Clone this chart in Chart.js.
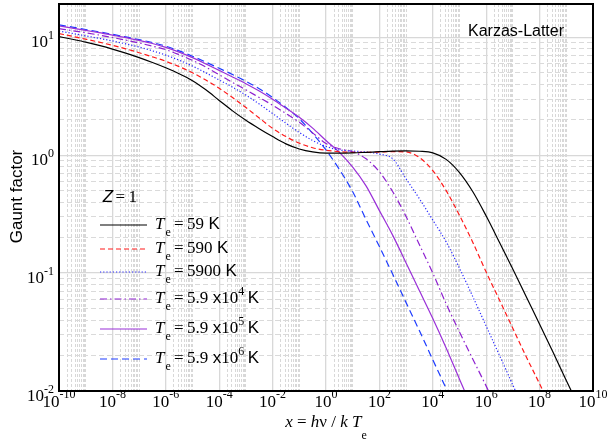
<!DOCTYPE html>
<html><head><meta charset="utf-8">
<script src="https://cdn.jsdelivr.net/npm/chart.js@4/dist/chart.umd.min.js"></script>
<style>html,body{margin:0;padding:0;background:#fff;}#wrap{width:609px;height:445px;}</style>
</head><body><div id="wrap"><canvas id="c" width="609" height="445"></canvas></div>
<script>
// x = h nu / k Te sample positions (half-decade steps)
const xValues = [1e-10, 3.162e-10, 1e-9, 3.162e-9, 1e-8, 3.162e-8, 1e-7, 3.162e-7, 1e-6, 3.162e-6, 1e-5, 3.162e-5, 1e-4, 3.162e-4, 1e-3, 3.162e-3, 1e-2, 3.162e-2, 0.1, 0.3162, 1, 3.162, 10, 31.62, 100, 316.2, 1e3, 3162, 1e4, 3.162e4, 1e5, 3.162e5, 1e6, 3.162e6, 1e7, 3.162e7, 1e8, 3.162e8, 1e9, 3.162e9, 1e10];
// Gaunt factor per temperature
const g59   = [10.16, 9.64, 9.12, 8.55, 7.96, 7.35, 6.73, 6.12, 5.52, 4.92, 4.29, 3.59, 2.92, 2.38, 1.98, 1.68, 1.44, 1.25, 1.13, 1.067, 1.042, 1.042, 1.047, 1.059, 1.072, 1.084, 1.089, 1.081, 1.047, 0.923, 0.713, 0.490, 0.305, 0.182, 0.108, 0.063, 0.0369, 0.0214, 0.0123, 0.0071, null];
const g590  = [10.77, 10.21, 9.66, 9.12, 8.57, 8.0, 7.41, 6.84, 6.27, 5.65, 5.01, 4.35, 3.70, 3.09, 2.54, 2.07, 1.69, 1.44, 1.267, 1.159, 1.102, 1.074, 1.059, 1.057, 1.064, 1.074, 1.067, 0.955, 0.741, 0.501, 0.309, 0.182, 0.102, 0.0589, 0.0339, 0.0195, 0.0115, 0.0066, null, null, null];
const g5900 = [11.32, 10.81, 10.30, 9.82, 9.33, 8.81, 8.28, 7.69, 7.08, 6.40, 5.71, 5.01, 4.35, 3.78, 3.24, 2.72, 2.26, 1.87, 1.56, 1.334, 1.189, 1.109, 1.084, 1.067, 1.023, 0.933, 0.631, 0.427, 0.282, 0.184, 0.110, 0.063, 0.0355, 0.020, 0.0112, 0.0063, null, null, null, null, null];
const g59e3 = [11.86, 11.40, 10.94, 10.47, 9.98, 9.48, 8.97, 8.43, 7.87, 7.13, 6.38, 5.60, 4.82, 4.14, 3.59, 3.09, 2.66, 2.26, 1.905, 1.549, 1.259, 1.135, 1.072, 0.933, 0.724, 0.490, 0.302, 0.174, 0.100, 0.055, 0.0316, 0.0186, 0.011, 0.0063, null, null, null, null, null, null, null];
const g59e4 = [12.50, 12.0, 11.48, 10.96, 10.47, 9.95, 9.44, 8.87, 8.22, 7.50, 6.73, 5.96, 5.25, 4.62, 4.05, 3.51, 2.99, 2.51, 2.10, 1.70, 1.334, 1.059, 0.794, 0.550, 0.339, 0.209, 0.122, 0.0708, 0.0412, 0.0232, 0.0126, 0.0069, null, null, null, null, null, null, null, null, null];
const g59e5 = [12.76, 12.22, 11.67, 11.14, 10.62, 10.09, 9.57, 9.04, 8.43, 7.69, 6.92, 6.17, 5.47, 4.84, 4.24, 3.67, 3.09, 2.54, 2.04, 1.531, 1.109, 0.759, 0.490, 0.285, 0.168, 0.0977, 0.0562, 0.0324, 0.0184, 0.0105, 0.0060, null, null, null, null, null, null, null, null, null, null];
// legend texts
const legendMantissa = ['59', '590', '5900', '5.9', '5.9', '5.9'];
const legendExponent = [null, null, null, '4', '5', '6'];
// tick labels (powers of ten)
const xLabelExps = [-10, -8, -6, -4, -2, 0, 2, 4, 6, 8, 10];
const yLabelExps = [-2, -1, 0, 1];
const minorMultipliers = [2, 3, 4, 5, 6, 7, 8, 9];

const seriesList = [g59, g590, g5900, g59e3, g59e4, g59e5];
const styles = [
  {c:'#000000', d:[]},
  {c:'#ff1a1a', d:[5,3]},
  {c:'#2a2aff', d:[1.2,2]},
  {c:'#8e20d0', d:[7,3,1.5,3]},
  {c:'#9a30d8', d:[]},
  {c:'#1e3cff', d:[7,4]}
];
const datasets = seriesList.map((arr, i) => ({
  data: xValues.map((x, j) => ({x: x, y: arr[j]})),
  borderColor: styles[i].c, borderDash: styles[i].d, borderWidth: 1.2,
  pointRadius: 0, fill: false, cubicInterpolationMode: 'monotone', spanGaps: false
}));

const SERIF = '"Liberation Serif","Times New Roman",serif';
const SANS = '"Liberation Sans",Arial,Helvetica,sans-serif';
const xMajor = v => xLabelExps.some(e => Math.abs(Math.log10(v) - e) < 1e-6);
const yMajor = v => yLabelExps.some(e => Math.abs(Math.log10(v) - e) < 1e-6);

function drawPow(ctx, base, exp, ax, align, baseline) {
  ctx.font = '17px ' + SERIF; const wb = ctx.measureText(base).width;
  ctx.font = '12px ' + SERIF; const we = ctx.measureText(exp).width;
  const sx = align === 'center' ? ax - (wb + we) / 2 : ax - (wb + we);
  ctx.font = '17px ' + SERIF; ctx.fillText(base, sx, baseline);
  ctx.font = '12px ' + SERIF; ctx.fillText(exp, sx + wb, baseline - 8.5);
}

const decor = {
  id: 'decor',
  afterDraw(chart) {
    const {ctx, chartArea: a, scales: {x, y}} = chart;
    ctx.save();
    ctx.setLineDash([]);
    ctx.strokeStyle = '#000'; ctx.lineWidth = 2;
    ctx.strokeRect(a.left, a.top, a.right - a.left, a.bottom - a.top);
    ctx.fillStyle = '#000'; ctx.textAlign = 'left'; ctx.textBaseline = 'alphabetic';
    xLabelExps.forEach(e => drawPow(ctx, '10', String(e), x.getPixelForValue(Math.pow(10, e)), 'center', a.bottom + 15.5));
    yLabelExps.forEach(e => drawPow(ctx, '10', String(e), 54, 'right', y.getPixelForValue(Math.pow(10, e)) + 10));
    // x title
    const parts = [['x','italic 17px '],[' = ','17px '],['h','italic 17px '],['\u03bd','17px '],[' / ','17px '],['k','italic 17px '],[' ','17px '],['T','italic 17px ']];
    let widths = parts.map(p => { ctx.font = p[1] + SERIF; return ctx.measureText(p[0]).width; });
    ctx.font = '12px ' + SERIF; const we = ctx.measureText('e').width;
    const tot = widths.reduce((s, w) => s + w, 0) + we;
    let cx = (a.left + a.right) / 2 - tot / 2;
    parts.forEach((p, i) => { ctx.font = p[1] + SERIF; ctx.fillText(p[0], cx, 426.5); cx += widths[i]; });
    ctx.font = '12px ' + SERIF; ctx.fillText('e', cx, 439);
    // y title
    ctx.save(); ctx.translate(21.5, 196.5); ctx.rotate(-Math.PI / 2);
    ctx.font = '17px ' + SANS; ctx.textAlign = 'center'; ctx.fillText('Gaunt factor', 0, 0);
    ctx.restore();
    // Karzas-Latter
    ctx.font = '16px ' + SANS; ctx.fillText('Karzas-Latter', 468, 36);
    // Z = 1
    ctx.font = 'italic 17px ' + SANS; ctx.fillText('Z', 102.7, 201.7);
    ctx.font = '17px ' + SERIF; ctx.fillText('=', 115.5, 201.7); ctx.fillText('1', 128.5, 201.7);
    // legend
    const rows = [225, 249, 272, 299, 329, 359];
    chart.data.datasets.forEach((ds, i) => {
      const ly = rows[i];
      ctx.strokeStyle = ds.borderColor; ctx.lineWidth = 1.2; ctx.setLineDash(ds.borderDash);
      ctx.beginPath(); ctx.moveTo(100, ly); ctx.lineTo(147, ly); ctx.stroke();
      ctx.setLineDash([]);
      const bl = ly + 4;
      ctx.font = 'italic 17px ' + SERIF; ctx.fillText('T', 155, bl);
      ctx.font = '12px ' + SERIF; ctx.fillText('e', 165.5, ly + 10.5);
      ctx.font = '17px ' + SERIF; ctx.fillText('=', 174, bl);
      let px = 187;
      ctx.fillText(legendMantissa[i], px, bl); px += ctx.measureText(legendMantissa[i]).width;
      if (legendExponent[i]) {
        px += 4.5; ctx.font = '17px ' + SANS; ctx.fillText('x', px, bl); px += ctx.measureText('x').width;
        ctx.font = '17px ' + SERIF; ctx.fillText('10', px, bl); px += ctx.measureText('10').width;
        ctx.font = '12px ' + SERIF; ctx.fillText(legendExponent[i], px, bl - 8.5); px += ctx.measureText(legendExponent[i]).width + 3.5;
      } else { px += 4.5; }
      ctx.font = '17px ' + SANS; ctx.fillText('K', px, bl);
    });
    ctx.restore();
  }
};

function makeXTicks() {
  const t = [];
  for (let e = -10; e <= 10; e += 2) {
    t.push(Math.pow(10, e));
    if (e < 10) { minorMultipliers.forEach(k => t.push(k * Math.pow(10, e))); t.push(Math.pow(10, e + 1)); }
  }
  return t;
}
function makeYTicks() {
  const t = [];
  for (let e = -2; e <= 1; e++) {
    t.push(Math.pow(10, e));
    minorMultipliers.forEach(k => { const v = k * Math.pow(10, e); if (v < 19.2) t.push(v); });
  }
  return t;
}

new Chart(document.getElementById('c'), {
  type: 'line',
  data: {datasets},
  options: {
    responsive: false, animation: false, devicePixelRatio: 1, events: [],
    layout: {padding: {left: 59, right: 16, top: 4, bottom: 54}},
    plugins: {legend: {display: false}, tooltip: {enabled: false}},
    scales: {
      x: {
        type: 'logarithmic', min: 1e-10, max: 1e10,
        afterBuildTicks: s => { s.ticks = makeXTicks().map(v => ({value: v})); },
        afterFit: s => { s.height = 0; },
        ticks: {display: false, autoSkip: false},
        grid: {drawTicks: false, lineWidth: c => (c.tick && xMajor(c.tick.value)) ? 1.3 : 1, color: '#d8d8d8'},
        border: {display: false, dash: c => (c.tick && !xMajor(c.tick.value)) ? [3, 2] : []}
      },
      y: {
        type: 'logarithmic', min: 0.01, max: 19.2,
        afterBuildTicks: s => { s.ticks = makeYTicks().map(v => ({value: v})); },
        afterFit: s => { s.width = 0; },
        ticks: {display: false, autoSkip: false},
        grid: {drawTicks: false, lineWidth: c => (c.tick && yMajor(c.tick.value)) ? 1.3 : 1, color: c => (c.tick && yMajor(c.tick.value)) ? '#d8d8d8' : '#dadada'},
        border: {display: false, dash: c => (c.tick && !yMajor(c.tick.value)) ? [5, 3] : []}
      }
    }
  },
  plugins: [decor]
});
</script></body></html>
